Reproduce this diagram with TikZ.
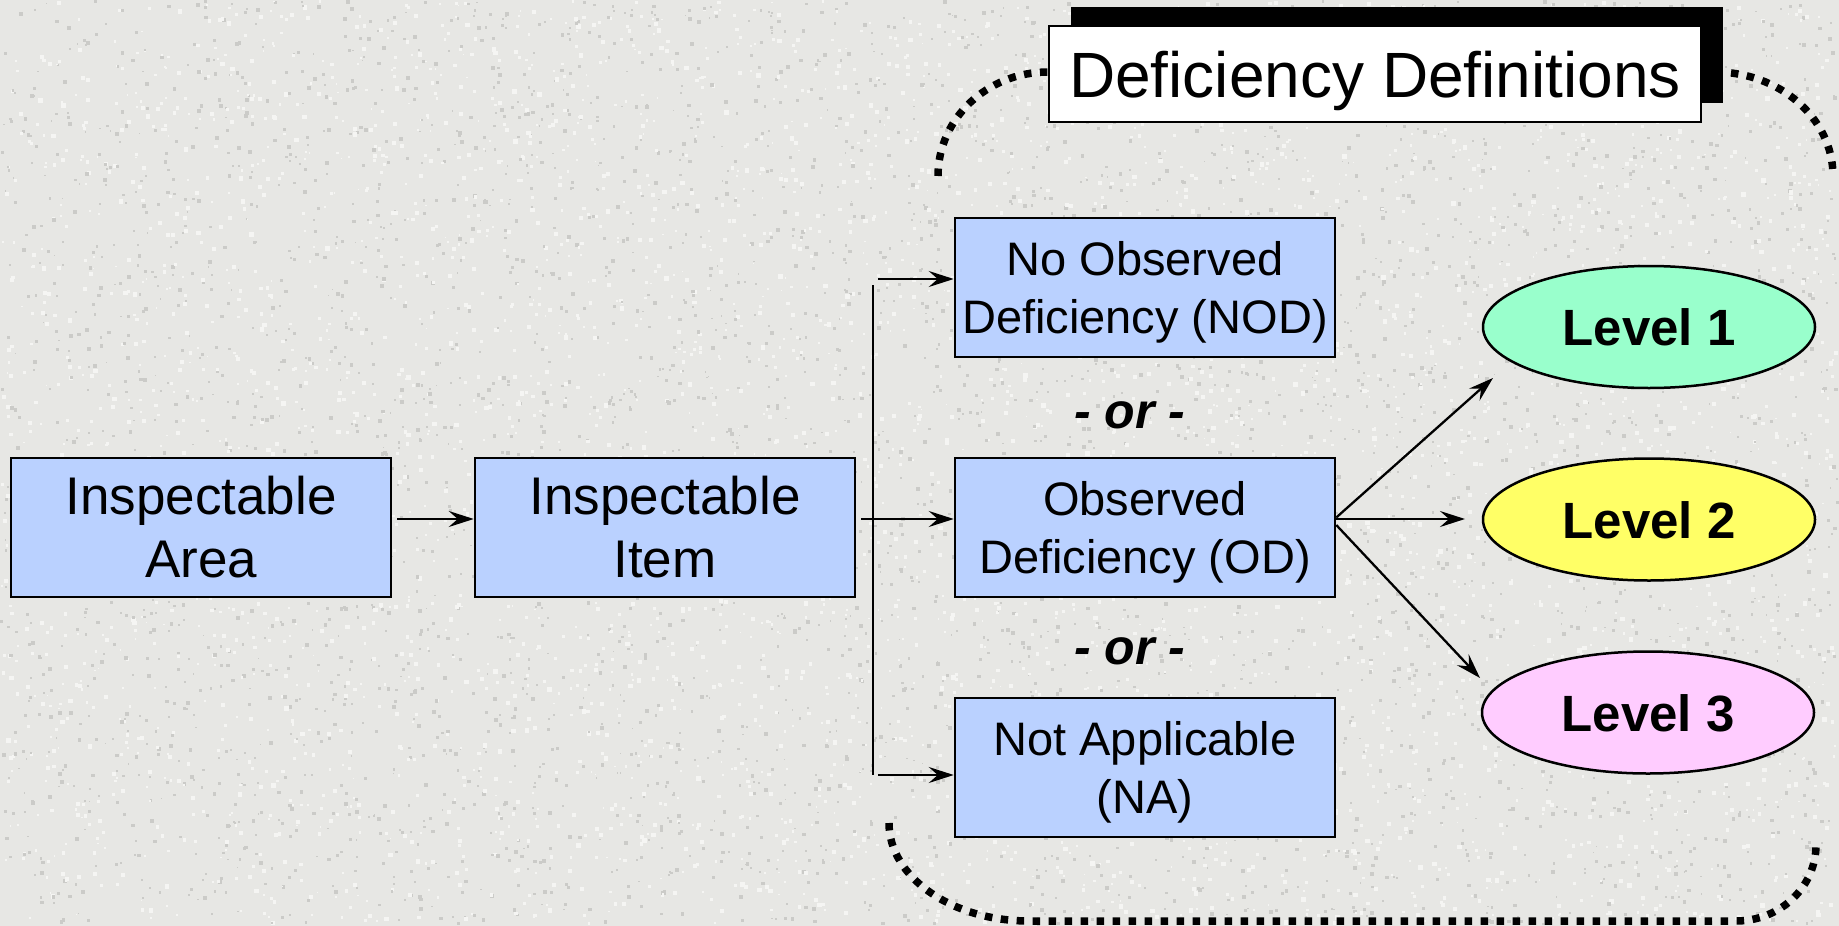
\documentclass[tikz,border=0pt]{standalone}
\usepackage{fontspec}
\setmainfont{Liberation Sans}
\usetikzlibrary{arrows.meta,shapes.geometric,shadows}
\definecolor{paper}{RGB}{231,231,228}
\definecolor{speckdark}{RGB}{203,203,200}
\definecolor{specklight}{RGB}{245,245,243}
\definecolor{boxblue}{RGB}{186,209,255}
\definecolor{lvlgreen}{RGB}{153,255,204}
\definecolor{lvlyellow}{RGB}{255,255,102}
\definecolor{lvlpink}{RGB}{255,204,255}
\tikzset{
  stepbox/.style={draw=black, line width=2.5pt, fill=boxblue,
    minimum width=380pt, minimum height=139pt, inner sep=0pt, align=center},
  % two-line texts: the box reaches from the first cap line to the last baseline
  bigtext/.style={font=\fontsize{53}{63}\selectfont, text height=100pt, text depth=0pt},
  midtext/.style={font=\fontsize{47}{58}\selectfont, text height=92pt, text depth=0pt},
  levelnode/.style={ellipse, draw=black, line width=2.5pt,
    minimum width=332pt, minimum height=122pt, inner sep=0pt,
    font=\bfseries\fontsize{51}{60}\selectfont, text height=37pt, text depth=0pt},
  arr/.style={line width=2.3pt, -{Stealth[length=25pt,width=16pt,inset=9pt]}},
  busline/.style={line width=2.3pt},
  bracketline/.style={line width=7.5pt, dash pattern=on 7.5pt off 8.5pt},
  orlabel/.style={font=\bfseries\itshape\fontsize{50}{58}\selectfont, anchor=base},
  titlebox/.style={draw=black, line width=2pt, fill=white,
    minimum width=652pt, minimum height=96pt, inner sep=0pt,
    font=\fontsize{64}{76}\selectfont, text height=46pt, text depth=0pt,
    drop shadow={shadow xshift=22pt, shadow yshift=19pt, fill=black, opacity=1, draw=none}},
}
\begin{document}
\begin{tikzpicture}[x=1pt,y=-1pt]
% granite paper
\path[fill=paper, use as bounding box] (0,0) rectangle (1839,926);
\pgfmathsetseed{4242}
\foreach \k in {1,...,4500}{
  \pgfmathsetmacro{\px}{rnd*1836}
  \pgfmathsetmacro{\py}{rnd*923}
  \pgfmathsetmacro{\ps}{1.5+rnd*2.5}
  \fill[speckdark] (\px,\py) rectangle ++(\ps,\ps);
  \pgfmathsetmacro{\qx}{rnd*1836}
  \pgfmathsetmacro{\qy}{rnd*923}
  \pgfmathsetmacro{\qs}{1.5+rnd*3}
  \fill[specklight] (\qx,\qy) rectangle ++(\qs,\qs);
}

% dotted brackets round the definitions group
\draw[bracketline] (938,176) arc[start angle=180, end angle=270, x radius=110, y radius=104];
\draw[bracketline] (1715,72) arc[start angle=270, end angle=360, x radius=118, y radius=104];
\draw[bracketline] (889,823) arc[start angle=180, end angle=90, x radius=140, y radius=98]
  -- (1736,921) arc[start angle=90, end angle=0, x radius=80, y radius=76];

% heading
\node[titlebox] (title) at (1375,74) {Deficiency Definitions};

% main chain
\node[stepbox, bigtext] (area) at (201,527.5) {Inspectable\\Area};
\node[stepbox, bigtext] (item) at (665,527.5) {Inspectable\\Item};

% the three outcomes
\node[stepbox, midtext] (nod) at (1145,287.5) {No Observed\\Deficiency (NOD)};
\node[stepbox, midtext] (od)  at (1145,527.5) {Observed\\Deficiency (OD)};
\node[stepbox, midtext] (na)  at (1145,767.5) {Not Applicable\\(NA)};
\node[orlabel] (or1) at (1130,428) {- or -};
\node[orlabel] (or2) at (1130,664) {- or -};

% levels
\node[levelnode, fill=lvlgreen]  (l1) at (1649,327)   {Level 1};
\node[levelnode, fill=lvlyellow] (l2) at (1649,519.5) {Level 2};
\node[levelnode, fill=lvlpink]   (l3) at (1648,712.5) {Level 3};

% connectors
\coordinate (busTop)  at (873,285);
\coordinate (busBot)  at (873,775);
\coordinate (nodTail) at (878,279);
\coordinate (naTail)  at (878,775);
\coordinate (tip1) at (1493,378);
\coordinate (tip2) at (1465,519);
\coordinate (tip3) at (1480,678);

\draw[arr, shorten <=5pt] ([yshift=8.5pt]area.east) -- ([yshift=8.5pt]item.west);
\draw[busline] (busTop) -- (busBot);
\draw[arr, shorten <=5pt] ([yshift=8.5pt]item.east) -- ([yshift=8.5pt]od.west);
\draw[arr] (nodTail) -- (nodTail -| nod.west);
\draw[arr] (naTail) -- (naTail -| na.west);
\draw[arr] ([yshift=10pt]od.east)  -- (tip1);
\draw[arr] ([yshift=8.5pt]od.east) -- (tip2);
\draw[arr] ([yshift=2.5pt]od.east) -- (tip3);
\end{tikzpicture}
\end{document}
